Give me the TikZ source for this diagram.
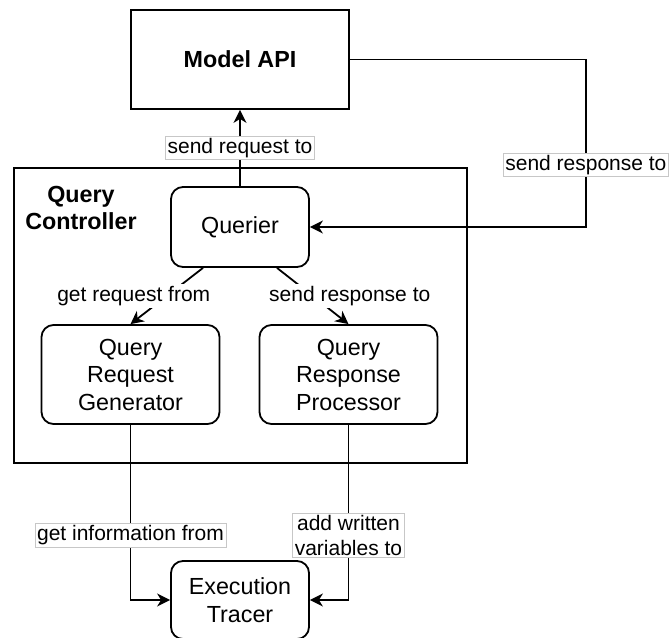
\documentclass[tikz,border=0pt]{standalone}
\usepackage{fontspec}
\setmainfont{Liberation Sans}
\usetikzlibrary{arrows.meta}

\begin{document}
\begin{tikzpicture}[
  x=1pt, y=-1pt,
  line width=1.8pt,
  block/.style={draw, align=center, inner sep=0, font=\fontsize{23.3}{27.5}\selectfont},
  box/.style={block, rounded corners=12pt, minimum width=138pt, minimum height=80pt},
  lbl/.style={fill=white, align=center, inner sep=2pt, font=\fontsize{21}{25}\selectfont},
  lblbox/.style={lbl, draw=black!22, line width=0.7pt},
  arr/.style={-{Stealth[length=13pt, width=13pt, inset=4pt]}},
]
\useasboundingbox (0,0) rectangle (669,637);
% --- model i kontroler ---
\node[block, minimum width=218pt, minimum height=99pt, font=\bfseries\fontsize{23.3}{27.5}\selectfont] (api) at (240,59.5) {Model API};
\node[draw, minimum width=453pt, minimum height=295pt] (ctrl) at (240.5,315.5) {};
\node[align=center, font=\bfseries\fontsize{23.3}{27}\selectfont] (ctrltitle) at (81,208) {Query\\Controller};
% --- bloki wewnatrz ---
\node[box] (querier) at (240,227) {Querier};
\node[box, minimum width=178pt, minimum height=99pt] (qrg) at (130.5,374.5) {Query\\Request\\Generator};
\node[box, minimum width=178pt, minimum height=99pt] (qrp) at (348.5,374.5) {Query\\Response\\Processor};
\node[box, minimum height=78pt] (tracer) at (240,600) {Execution\\Tracer};
% --- polaczenia ---
\draw[arr] (querier) -- node[lblbox] {send request to} (api);
\draw[arr] (api.east) -- ++(236,0) |- node[lblbox, pos=0.315] {send response to} (querier.east);
\draw[arr] ([xshift=-37pt]querier.south) -- node[lbl, xshift=-33pt] {get request from} (qrg.north);
\draw[arr] ([xshift=37pt]querier.south) -- node[lbl, xshift=37pt] {send response to} (qrp.north);
\draw[arr] (qrg.south) |- node[lblbox, pos=0.315] {get information from} (tracer.west);
\draw[arr] (qrp.south) |- node[lblbox, pos=0.315] {add written\\variables to} (tracer.east);
\end{tikzpicture}
\end{document}
